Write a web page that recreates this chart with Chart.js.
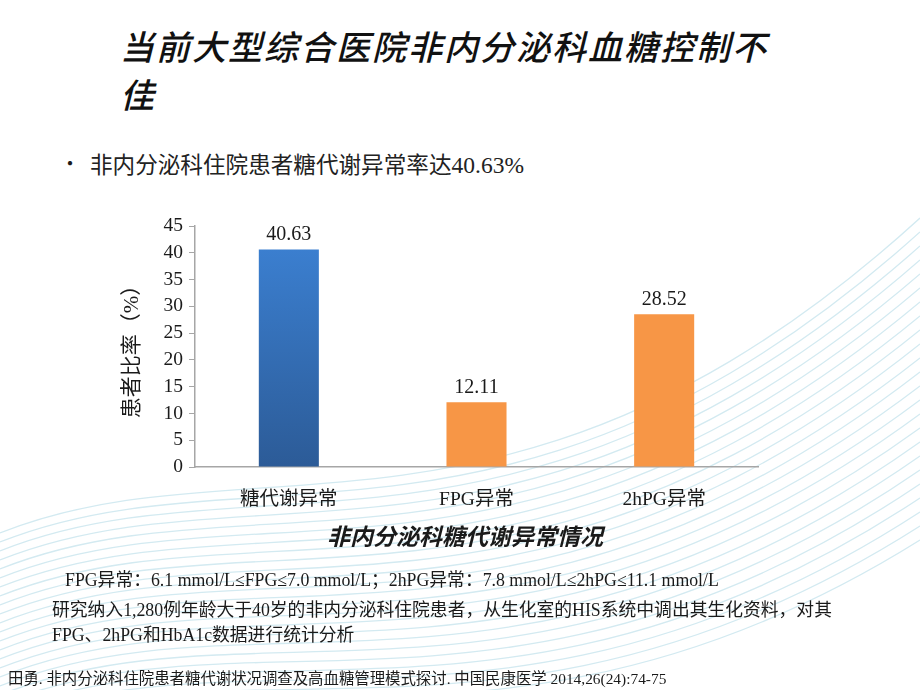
<!DOCTYPE html>
<html>
<head>
<meta charset="utf-8">
<script src="https://cdn.jsdelivr.net/npm/chart.js@4"></script>
<style>
  html, body { margin: 0; padding: 0; background: #fff; }
  #slide { position: relative; width: 920px; height: 690px; overflow: hidden; font-family: "Liberation Serif", "Noto Sans CJK SC", serif; color: #1a1a1a; }
  #waves { position: absolute; left: 0; top: 0; }
  #chartBox { position: absolute; left: 0; top: 0; width: 920px; height: 690px; }
  .t { position: absolute; white-space: nowrap; }
  #title { left: 120px; top: 22px; font-family: "Noto Sans CJK SC", sans-serif; font-size: 34px; font-weight: 500; font-style: italic; line-height: 48px; letter-spacing: 2px; color: #111; }
  #bullet { left: 60px; top: 148px; font-family: "Noto Sans CJK SC", sans-serif; font-size: 20px; }
  #bulletText { left: 90px; top: 147px; font-size: 22.6px; font-family: "Noto Sans CJK SC", sans-serif; color: #222; }
  #bulletText .n { font-family: "Liberation Serif"; font-size: 23.5px; }
  #sub { left: 0; width: 930px; text-align: center; top: 518px; font-family: "Noto Sans CJK SC", sans-serif; font-size: 23px; font-weight: bold; font-style: italic; }
  #def { left: 65px; top: 565px; font-size: 17.8px; }
  #note { left: 52px; top: 598px; font-size: 17.8px; line-height: 25px; }
  #ref { left: 8px; top: 666px; font-size: 15.4px; }
</style>
</head>
<body>
<div id="slide">
  <svg id="waves" width="920" height="690"></svg>
  <div class="t" id="title">当前大型综合医院非内分泌科血糖控制不<br>佳</div>
  <div class="t" id="bullet">•</div>
  <div class="t" id="bulletText">非内分泌科住院患者糖代谢异常率达<span class="n">40.63%</span></div>
  <div id="chartBox"><canvas id="chart" width="920" height="690"></canvas></div>
  <div class="t" id="sub">非内分泌科糖代谢异常情况</div>
  <div class="t" id="def">FPG异常：6.1 mmol/L≤FPG≤7.0 mmol/L；2hPG异常：7.8 mmol/L≤2hPG≤11.1 mmol/L</div>
  <div class="t" id="note">研究纳入1,280例年龄大于40岁的非内分泌科住院患者，从生化室的HIS系统中调出其生化资料，对其<br>FPG、2hPG和HbA1c数据进行统计分析</div>
  <div class="t" id="ref">田勇. 非内分泌科住院患者糖代谢状况调查及高血糖管理模式探讨. 中国民康医学 2014,26(24):74-75</div>
</div>
<script>
// chart data
const categories = ["糖代谢异常", "FPG异常", "2hPG异常"];
const rates = [40.63, 12.11, 28.52];
const yTicks = [0, 5, 10, 15, 20, 25, 30, 35, 40, 45];

// faint wave decoration, bottom right
(function () {
  const svg = document.getElementById("waves");
  let d = "";
  for (let i = 0; i < 24; i++) {
    const y0 = 700 - i * 9;
    d += "M 0 " + (y0 + 40) + " C 250 " + (y0 - 60) + ", 520 " + (y0 + 90) + ", 920 " + (y0 - 160 - i * 5) + " ";
  }
  const p = document.createElementNS("http://www.w3.org/2000/svg", "path");
  p.setAttribute("d", d);
  p.setAttribute("fill", "none");
  p.setAttribute("stroke", "#d3eaf1");
  p.setAttribute("stroke-width", "1.3");
  svg.appendChild(p);
})();

const axisGrey = "#a6a6a6";
const serif = "'Liberation Serif', 'Noto Sans CJK SC', serif";

function barColor(ctx) {
  if (ctx.dataIndex !== 0) return "#f79646";
  const area = ctx.chart.chartArea;
  if (!area) return "#3a7ccb";
  const g = ctx.chart.ctx.createLinearGradient(0, area.top + 20, 0, area.bottom);
  g.addColorStop(0, "#3b7fd0");
  g.addColorStop(1, "#2c5b97");
  return g;
}

const valueLabels = {
  id: "valueLabels",
  afterDatasetsDraw(chart) {
    const c = chart.ctx;
    const meta = chart.getDatasetMeta(0);
    c.save();
    c.font = "20px " + serif;
    c.fillStyle = "#1a1a1a";
    c.textAlign = "center";
    c.textBaseline = "alphabetic";
    meta.data.forEach((bar, i) => {
      c.fillText(rates[i].toFixed(2), bar.x, bar.y - 9);
    });
    c.restore();
  },
};

new Chart(document.getElementById("chart"), {
  type: "bar",
  data: {
    labels: categories,
    datasets: [
      {
        data: rates,
        backgroundColor: barColor,
        barPercentage: 0.32,
        categoryPercentage: 1,
      },
    ],
  },
  options: {
    responsive: false,
    animation: false,
    events: [],
    layout: { padding: { left: 118, right: 162, top: 226, bottom: 173 } },
    plugins: { legend: { display: false }, tooltip: { enabled: false } },
    scales: {
      x: {
        afterFit: (s) => { s.height = 50; },
        grid: { display: false },
        border: { display: true, color: axisGrey, width: 1.5 },
        ticks: { color: "#1a1a1a", padding: 13, font: { family: serif, size: 19.5 } },
      },
      y: {
        min: 0,
        max: 45,
        afterFit: (s) => { s.width = 77; },
        afterBuildTicks: (s) => { s.ticks = yTicks.map((v) => ({ value: v })); },
        grid: { drawOnChartArea: false, drawTicks: true, tickLength: 6, color: axisGrey },
        border: { display: true, color: axisGrey, width: 1.5 },
        ticks: { color: "#1a1a1a", padding: 6, font: { family: serif, size: 19.5 } },
        title: {
          display: true,
          text: "患者比率（%）",
          color: "#1a1a1a",
          padding: { top: 2, bottom: 2 },
          font: { family: serif, size: 21 },
        },
      },
    },
  },
  plugins: [valueLabels],
});
</script>
</body>
</html>
